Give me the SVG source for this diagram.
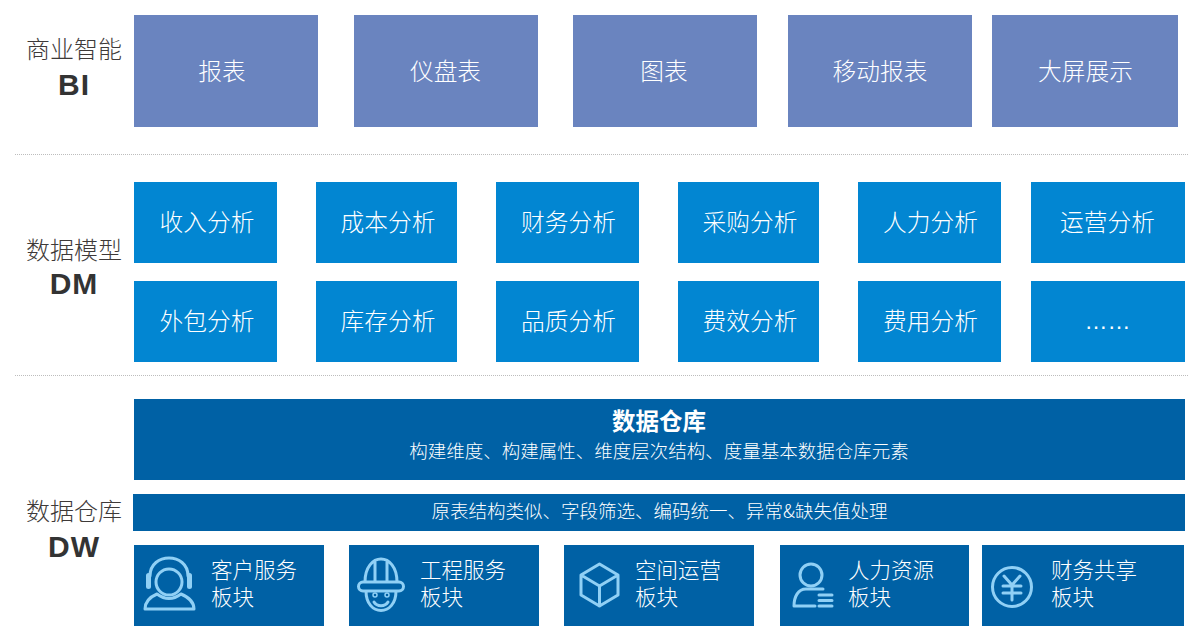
<svg xmlns="http://www.w3.org/2000/svg" width="1200" height="643" viewBox="0 0 1200 643">
<style>
text{font-family:"Liberation Sans","Noto Sans CJK SC",sans-serif;text-anchor:middle}
.bi{fill:#6a84bf}.dm{fill:#0286d2}.dw{fill:#0061a5}
.t{fill:#fff;font-size:23.700px;font-family:"Noto Sans CJK SC",sans-serif;font-weight:300}
.s{fill:#fff;font-size:18.500px;font-family:"Noto Sans CJK SC",sans-serif;font-weight:300}
.l{fill:#3e3a39;font-size:24px;font-family:"Noto Sans CJK SC",sans-serif;font-weight:300}
.b{fill:#333;font-size:30px;font-weight:700;letter-spacing:1px;font-family:"Liberation Sans",sans-serif}
.m{fill:#fff;font-size:21.500px;text-anchor:start;font-family:"Noto Sans CJK SC",sans-serif;font-weight:300}
.i{fill:none;stroke:#90d0f5;stroke-width:3;stroke-linejoin:round;stroke-linecap:round}
.sep{stroke:#bdbdbd;stroke-width:1;stroke-dasharray:1 1;fill:none}
</style>
<g id="labels">
<text class="l" x="74" y="58">商业智能</text><text class="b" x="74" y="95">BI</text>
<text class="l" x="74" y="259">数据模型</text><text class="b" x="74" y="294">DM</text>
<text class="l" x="74" y="520">数据仓库</text><text class="b" x="74" y="557">DW</text>
</g>
<g id="connectors">
<path class="sep" d="M15 154.500H1189M15 375.500H1189"/>
</g>
<g id="bi1"><rect class="bi" x="134" y="15" width="184" height="112"/><text class="t" x="222" y="79.500">报表</text></g>
<g id="bi2"><rect class="bi" x="354" y="15" width="184" height="112"/><text class="t" x="445.500" y="79.500">仪盘表</text></g>
<g id="bi3"><rect class="bi" x="573" y="15" width="184" height="112"/><text class="t" x="664" y="79.500">图表</text></g>
<g id="bi4"><rect class="bi" x="788" y="15" width="184" height="112"/><text class="t" x="880" y="79.500">移动报表</text></g>
<g id="bi5"><rect class="bi" x="992" y="15" width="186" height="112"/><text class="t" x="1085.500" y="79.500">大屏展示</text></g>
<g id="dm1"><rect class="dm" x="134" y="182" width="143" height="81"/><text class="t" x="207" y="230.500">收入分析</text></g>
<g id="dm2"><rect class="dm" x="316" y="182" width="141" height="81"/><text class="t" x="388" y="230.500">成本分析</text></g>
<g id="dm3"><rect class="dm" x="496" y="182" width="143" height="81"/><text class="t" x="568.500" y="230.500">财务分析</text></g>
<g id="dm4"><rect class="dm" x="678" y="182" width="141" height="81"/><text class="t" x="750" y="230.500">采购分析</text></g>
<g id="dm5"><rect class="dm" x="858" y="182" width="143" height="81"/><text class="t" x="930.500" y="230.500">人力分析</text></g>
<g id="dm6"><rect class="dm" x="1031" y="182" width="154" height="81"/><text class="t" x="1107.500" y="230.500">运营分析</text></g>
<g id="dm7"><rect class="dm" x="134" y="281" width="143" height="81"/><text class="t" x="207" y="329.500">外包分析</text></g>
<g id="dm8"><rect class="dm" x="316" y="281" width="141" height="81"/><text class="t" x="388" y="329.500">库存分析</text></g>
<g id="dm9"><rect class="dm" x="496" y="281" width="143" height="81"/><text class="t" x="568.500" y="329.500">品质分析</text></g>
<g id="dm10"><rect class="dm" x="678" y="281" width="141" height="81"/><text class="t" x="750" y="329.500">费效分析</text></g>
<g id="dm11"><rect class="dm" x="858" y="281" width="143" height="81"/><text class="t" x="930.500" y="329.500">费用分析</text></g>
<g id="dm12"><rect class="dm" x="1031" y="281" width="154" height="81"/><text x="1107.500" y="329" fill="#fff" font-size="23">……</text></g>
<g id="dw-main"><rect class="dw" x="134" y="399" width="1051" height="81"/>
<text x="659" y="430" fill="#fff" font-size="23.500" font-weight="700" style="font-family:'Noto Sans CJK SC',sans-serif">数据仓库</text>
<text class="s" x="659" y="458">构建维度、构建属性、维度层次结构、度量基本数据仓库元素</text></g>
<g id="dw-etl"><rect class="dw" x="133" y="494" width="1052" height="37"/><text class="s" x="659.500" y="518">原表结构类似、字段筛选、编码统一、异常&amp;缺失值处理</text></g>
<g id="dw1"><rect class="dw" x="134" y="545" width="190" height="81"/>
<circle class="i" cx="169" cy="582" r="13"/>
<path class="i" d="M150 576C150 552 188 552 188 576M145 609C145 601 150 597 157 594C165 600 173 600 181 594C188 597 194 601 194 609Z"/>
<rect x="146" y="573" width="5" height="16" rx="2.500" fill="#90d0f5"/><rect x="187" y="573" width="5" height="16" rx="2.500" fill="#90d0f5"/>
<text class="m"><tspan x="211" y="578">客户服务</tspan><tspan x="211" y="605">板块</tspan></text></g>
<g id="dw2"><rect class="dw" x="349" y="545" width="190" height="81"/>
<path class="i" d="M365 582C365 567 373 559 381 559C389 559 397 567 397 582M375 561V581M387 561V581M363 582H399A4.500 4.500 0 0 1 399 591H363A4.500 4.500 0 0 1 363 582ZM366 591C366 617 396 617 396 591M374 602C377 607 385 607 388 602"/>
<circle class="i" cx="375" cy="595" r="2" style="stroke-width:1.500"/><circle class="i" cx="387" cy="595" r="2" style="stroke-width:1.500"/>
<text class="m"><tspan x="420" y="578">工程服务</tspan><tspan x="420" y="605">板块</tspan></text></g>
<g id="dw3"><rect class="dw" x="564" y="545" width="190" height="81"/>
<path class="i" d="M599.500 564L618 575V595L599.500 606L581 595V575ZM581 575L599.500 586L618 575M599.500 586V606"/>
<text class="m"><tspan x="635" y="578">空间运营</tspan><tspan x="635" y="605">板块</tspan></text></g>
<g id="dw4"><rect class="dw" x="780" y="545" width="189" height="81"/>
<circle class="i" cx="811" cy="575" r="11"/><path class="i" d="M823 589H806C798 589 794 597 794 606H815M819 595H832M819 600.500H832M819 606H832"/>
<text class="m"><tspan x="848" y="578">人力资源</tspan><tspan x="848" y="605">板块</tspan></text></g>
<g id="dw5"><rect class="dw" x="982" y="545" width="202" height="81"/>
<circle class="i" cx="1012" cy="587" r="19.500"/><path class="i" d="M1004 576L1012 585L1020 576M1003 586H1021M1003 593H1021M1012 585V600"/>
<text class="m"><tspan x="1051" y="578">财务共享</tspan><tspan x="1051" y="605">板块</tspan></text></g>
</svg>
